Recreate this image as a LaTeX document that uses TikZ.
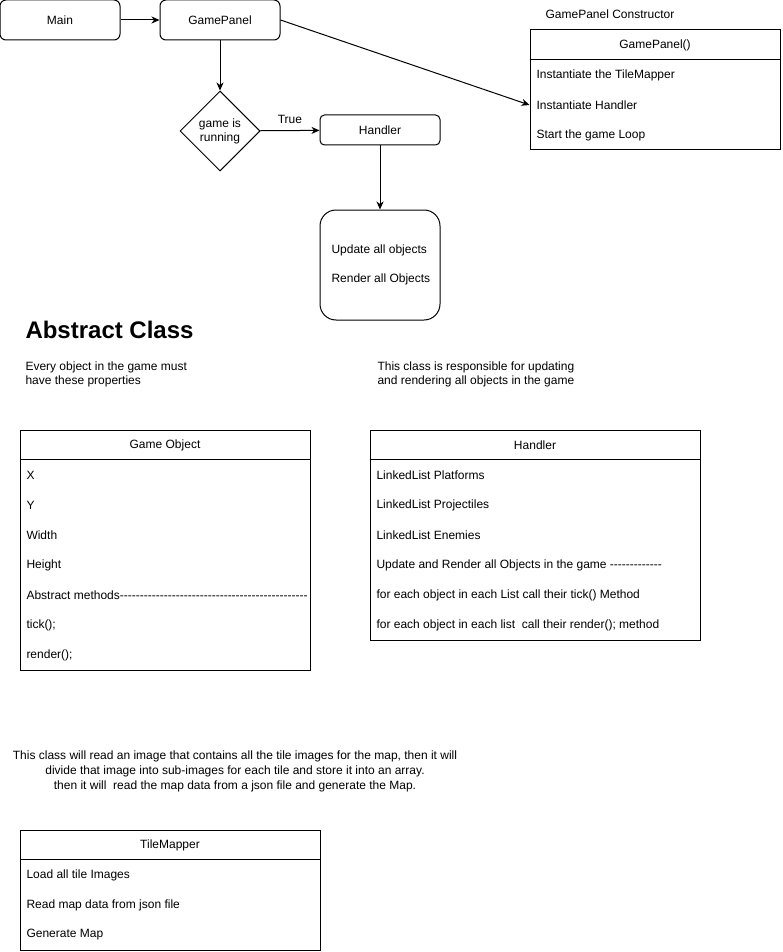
\documentclass[tikz,border=0pt]{standalone}
\usepackage{fontspec}
\setmainfont{Liberation Sans}[Ligatures=TeXOff]
\usepackage{tikz}
\usetikzlibrary{arrows,arrows.meta,shapes.geometric}

\tikzset{
  rbox/.style={draw, rounded corners=6pt, minimum width=120pt, minimum height=40pt},
  decision/.style={draw, diamond, aspect=1, inner sep=0pt, minimum width=80pt, minimum height=80pt, align=center, font=\fontsize{12}{14}\selectfont},
  classbox/.style={draw, inner sep=0pt},
  row/.style={anchor=west, inner sep=0pt},
  desc/.style={anchor=west, inner sep=0pt, align=left, font=\fontsize{12}{14}\selectfont},
  arr/.style={-{Stealth[length=8pt,width=7pt,inset=2.5pt]}}
}

\begin{document}
\begin{tikzpicture}[x=1pt,y=-1pt,line width=1pt,font=\fontsize{12}{15}\selectfont]
\useasboundingbox (0,0) rectangle (782,952);

\node[rbox] (main) at (60,20) {Main};
\node[rbox] (gp) at (220,20) {GamePanel};
\node[decision] (run) at (220,131) {game is\\running};
\node[rbox, minimum height=30pt, rounded corners=4.5pt] (hd) at (380,130) {Handler};
\node[rbox, minimum height=110pt, rounded corners=16pt] (loop) at (380,265) {};
\node[row] (upd) at (331,250) {Update all objects};
\node[row] (rnd) at (331,279) {Render all Objects};

\node (gpclabel) at (610,14) {GamePanel Constructor};
\node[classbox, minimum width=250pt, minimum height=120pt] (gpc) at (655,90) {};
\draw ([yshift=-30pt]gpc.north west) -- ([yshift=-30pt]gpc.north east);
\node (gpct) at (655,45) {GamePanel()};
\node[row] (gpca) at (536,75) {Instantiate the TileMapper};
\node[row] (gpcb) at (536,105) {Instantiate Handler};
\node[row] (gpcc) at (536,135) {Start the game Loop};

\draw[arr] (main) -- (gp);
\draw[arr] (gp) -- (run);
\draw[arr] (run) -- node[above=3pt] (tru) {True} (hd);
\draw[arr] (hd) -- (loop);
\draw[arr] (gp.east) -- (gpc.west |- gpcb);

\node[row, font=\fontsize{24}{28}\bfseries\selectfont] (abs) at (25,330) {Abstract Class};
\node[desc] (goinfo) at (25,374) {Every object in the game must\\have these properties};
\node[desc] (hdinfo) at (377,374) {This class is responsible for updating\\and rendering all objects in the game};

\node[classbox, minimum width=290pt, minimum height=240pt] (go) at (165,550) {};
\draw ([yshift=-30pt]go.north west) -- ([yshift=-30pt]go.north east);
\node (got) at (165,445) {Game Object};
\node[row] (gox) at (26,475) {X};
\node[row] (goy) at (26,505) {Y};
\node[row] (gow) at (26,535) {Width};
\node[row] (goh) at (26,565) {Height};
\node[row] (goam) at (26,595) {Abstract methods-----------------------------------------------};
\node[row] (gotick) at (26,625) {tick();};
\node[row] (gornd) at (26,655) {render();};

\node[classbox, minimum width=330pt, minimum height=210pt] (hdc) at (535,535) {};
\draw ([yshift=-30pt]hdc.north west) -- ([yshift=-30pt]hdc.north east);
\node (hdct) at (535,445) {Handler};
\node[row] (hda) at (376,475) {LinkedList Platforms};
\node[row] (hdb) at (376,505) {LinkedList Projectiles};
\node[row] (hdc1) at (376,535) {LinkedList Enemies};
\node[row] (hdd) at (376,565) {Update and Render all Objects in the game -------------};
\node[row] (hde) at (376,595) {for each object in each List call their tick() Method};
\node[row] (hdf) at (376,625) {for each object in each list\ \ call their render(); method};

\node[align=center] (tminfo) at (235,771) {This class will read an image that contains all the tile images for the map, then it will\\divide that image into sub-images for each tile and store it into an array.\\then it will\ \ read the map data from a json file and generate the Map.};

\node[classbox, minimum width=300pt, minimum height=120pt] (tm) at (170,890) {};
\draw ([yshift=-30pt]tm.north west) -- ([yshift=-30pt]tm.north east);
\node (tmt) at (170,845) {TileMapper};
\node[row] (tma) at (26,875) {Load all tile Images};
\node[row] (tmb) at (26,905) {Read map data from json file};
\node[row] (tmc) at (26,935) {Generate Map};

\end{tikzpicture}
\end{document}
